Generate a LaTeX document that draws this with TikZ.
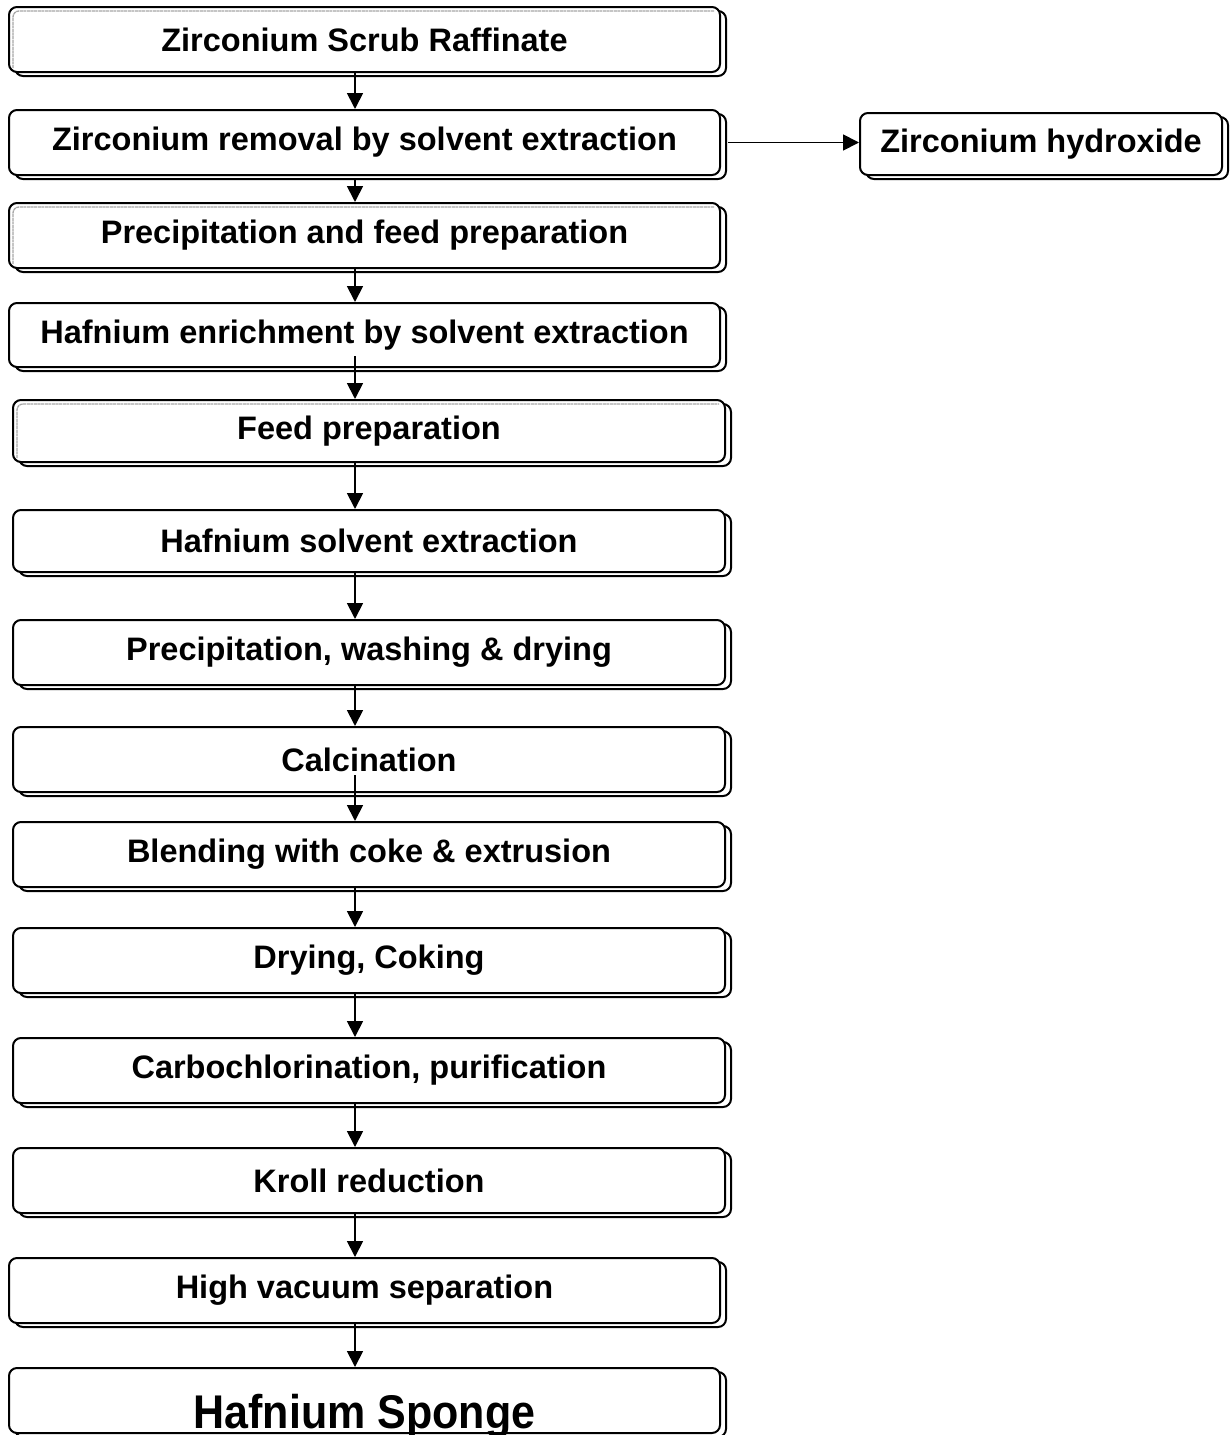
\documentclass[tikz,border=0pt]{standalone}
\usepackage{fontspec}
\setmainfont{Liberation Sans}
\usetikzlibrary{arrows.meta,calc}
\newcommand\procbox[6]{%
  \draw[shadowline] (#2+6,#3+4) rectangle (#4+6,#5+4);
  \node[box,minimum width={#4-#2},minimum height={#5-#3}] (#1) at ({(#2+#4)/2},{(#3+#5)/2}) {#6};
}
\newcommand\artline[4]{%
  \draw[artifact] (#1+4,#4-4) |- (#3-6,#2+4);
}
\begin{document}
\begin{tikzpicture}[x=1pt,y=-1pt,
  box/.style={draw,line width=2pt,rounded corners=8pt,fill=white,
    font=\fontsize{32.5}{36}\selectfont\bfseries,inner sep=0pt},
  shadowline/.style={draw,line width=2pt,rounded corners=8pt,fill=white},
  artifact/.style={draw=gray!70,line width=1.3pt,dash pattern=on 3pt off 0.6pt,rounded corners=6pt},
  arr/.style={line width=1.8pt,-{Triangle[length=16pt,width=16pt]}}]
\useasboundingbox (0,0) rectangle (1230,1435);
\coordinate (ax) at (355,0);
\procbox{b1}{9}{7}{720}{72}{Zirconium Scrub Raffinate}
\artline{9}{7}{720}{72}
\procbox{b2}{9}{110}{720}{175}{Zirconium removal by solvent extraction}
\procbox{zh}{860}{113}{1222}{175}{Zirconium hydroxide}
\procbox{b3}{9}{203}{720}{268}{Precipitation and feed preparation}
\artline{9}{203}{720}{268}
\procbox{b4}{9}{303}{720}{367}{Hafnium enrichment by solvent extraction}
\procbox{b5}{13}{400}{725}{462}{Feed preparation}
\artline{13}{400}{725}{462}
\procbox{b6}{13}{510}{725}{572}{Hafnium solvent extraction}
\procbox{b7}{13}{620}{725}{685}{Precipitation, washing \& drying}
\procbox{b8}{13}{727}{725}{792}{Calcination}
\procbox{b9}{13}{822}{725}{887}{Blending with coke \& extrusion}
\procbox{b10}{13}{928}{725}{993}{Drying, Coking}
\procbox{b11}{13}{1038}{725}{1103}{Carbochlorination, purification}
\procbox{b12}{13}{1148}{725}{1213}{Kroll reduction}
\procbox{b13}{9}{1258}{720}{1323}{High vacuum separation}
\procbox{b14}{9}{1368}{720}{1433}{}
\node[anchor=base,inner sep=0pt,font=\fontsize{43}{48}\selectfont\bfseries] (t14) at ($(b14.south)+(0,-6)$) {\scalebox{1}[1.1]{Hafnium Sponge}};
\draw[arr] (b1.south -| ax) -- (b2.north -| ax);
\draw[arr] ($(b2.south -| ax)+(0,4)$) -- (b3.north -| ax);
\draw[arr] (b3.south -| ax) -- (b4.north -| ax);
\draw[arr] ($(b4.south -| ax)+(0,-12)$) -- (b5.north -| ax);
\draw[arr] (b5.south -| ax) -- (b6.north -| ax);
\draw[arr] (b6.south -| ax) -- (b7.north -| ax);
\draw[arr] (b7.south -| ax) -- (b8.north -| ax);
\draw[arr] ($(b8.south -| ax)+(0,-18)$) -- (b9.north -| ax);
\draw[arr] (b9.south -| ax) -- (b10.north -| ax);
\draw[arr] (b10.south -| ax) -- (b11.north -| ax);
\draw[arr] (b11.south -| ax) -- (b12.north -| ax);
\draw[arr] (b12.south -| ax) -- (b13.north -| ax);
\draw[arr] (b13.south -| ax) -- (b14.north -| ax);
\draw[arr] ($(b2.east)+(7,0)$) -- (zh.west |- b2.east);
\end{tikzpicture}
\end{document}
